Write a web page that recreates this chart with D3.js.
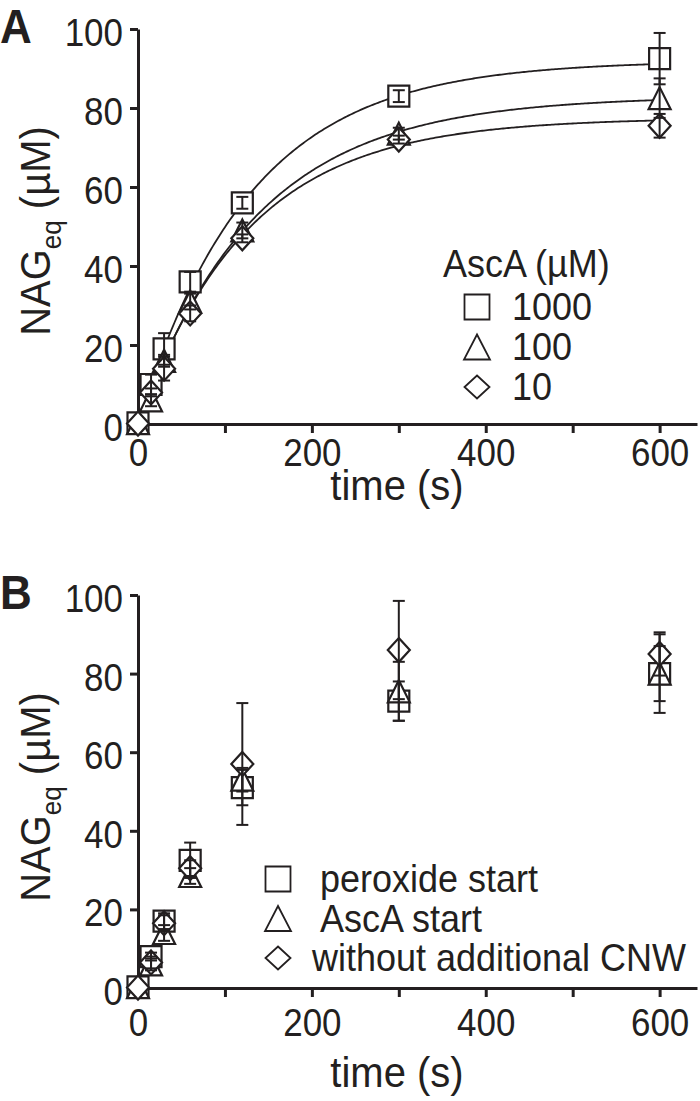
<!DOCTYPE html>
<html><head><meta charset="utf-8">
<script src="https://cdn.jsdelivr.net/npm/d3@7"></script>
<style>
body{margin:0;background:#fff}
text{font-family:"Liberation Sans",Arial,Helvetica,sans-serif;fill:#231f20}
</style>
</head><body>
<svg id="chart" width="700" height="1101"></svg>
<script>
// ---------- data ----------
const times = [0, 15, 30, 60, 120, 300, 600];
const xTicks = [0, 100, 200, 300, 400, 500, 600];
const xTickLabels = ["0", "", "200", "", "400", "", "600"];
const yTicks = [0, 20, 40, 60, 80, 100];
const yTickLabels = ["0", "20", "40", "60", "80", "100"];

// Panel A: AscA concentration series
const seriesA = ["1000", "100", "10"];
const a1000 = [0.3, 10, 19, 36, 56, 83, 92.5];
const a1000Err = [0.5, 2.5, 4, 2.5, 1.5, 1.5, 6.5];
const a100 = [0.2, 6, 16, 31, 49, 73.5, 82.5];
const a100Err = [0.5, 1.5, 1.5, 2, 2, 1.5, 5];
const a10 = [0.1, 8, 14, 28, 47, 72, 75.5];
const a10Err = [0.5, 1, 3, 2, 1, 1, 3];
// exponential fit parameters (plateau, rate) for the fitted curves
const fitPlateauA = [92, 83, 77.5];
const fitRateA = [0.0078, 0.0074, 0.0080];
const legendTitleA = "AscA (\u00b5M)";

// Panel B: start-condition series
const seriesB = ["peroxide start", "AscA start", "without additional CNW"];
const bPeroxide = [0.3, 8, 17, 32.5, 51, 73, 80];
const bPeroxideErr = [0.5, 1, 2, 4.5, 4.5, 5, 10];
const bAscA = [0.2, 6, 14, 28.5, 53, 75.5, 80];
const bAscAErr = [0.5, 1.5, 2, 2, 3, 7.5, 7];
const bNoCNW = [0.1, 6.5, 16.5, 30.5, 57, 86, 85];
const bNoCNWErr = [0.5, 1.5, 2, 2, 15.5, 12.5, 5.5];

const shapes = ["square", "triangle", "diamond"];
const ink = "#231f20";

// ---------- helpers ----------
function symbolPath(shape, w, h) {
  const p = d3.path();
  if (shape === "square") { p.rect(-w/2, -h/2, w, h); }
  else if (shape === "triangle") { p.moveTo(0, -h/2); p.lineTo(w/2, h/2); p.lineTo(-w/2, h/2); p.closePath(); }
  else { p.moveTo(0, -h/2); p.lineTo(w/2, 0); p.lineTo(0, h/2); p.lineTo(-w/2, 0); p.closePath(); }
  return p.toString();
}
// vertically stretch text glyphs (reference type is taller than Arial)
function stretch(sel, k) {
  sel.each(function () {
    const t = d3.select(this);
    const x = +t.attr("x") || 0, y = +t.attr("y") || 0;
    const prev = t.attr("transform") || "";
    t.attr("x", null).attr("y", null)
      .attr("transform", `${prev} translate(${x},${y}) scale(1,${k})`);
  });
}
const markSize = {square:[21,21], triangle:[22,22], diamond:[22,24]};
const legSize = {square:[25,25], triangle:[26,25], diamond:[25,23]};

const svg = d3.select("#chart");

function panel(cfg) {
  const g = svg.append("g");
  const x = d3.scaleLinear().domain([0, 643]).range([138, 697]);
  const y = d3.scaleLinear().domain([0, 100]).range([cfg.y0, cfg.y100]);

  // axes
  const xAxis = d3.axisBottom(x).tickValues(xTicks).tickSize(9).tickSizeOuter(0)
    .tickFormat((d, i) => xTickLabels[i]);
  const gx = g.append("g").attr("transform", `translate(0,${cfg.y0})`).call(xAxis);
  const yAxis = d3.axisLeft(y).tickValues(yTicks).tickSize(8).tickSizeOuter(0)
    .tickFormat((d, i) => yTickLabels[i]).tickPadding(7);
  const gy = g.append("g").attr("transform", `translate(${x(0)},0)`).call(yAxis);
  [gx, gy].forEach(a => {
    a.select(".domain").attr("stroke", ink).attr("stroke-width", 3);
    a.selectAll(".tick line").attr("stroke", ink).attr("stroke-width", 3);
    a.selectAll(".tick text").attr("font-size", 35).attr("fill", ink)
      .attr("font-family", '"Liberation Sans",Arial,sans-serif');
  });
  gy.selectAll(".tick text").attr("dy", "0.42em");
  gx.selectAll(".tick text").attr("dy", null).attr("y", cfg.xLabOff / 1.12);
  stretch(gy.selectAll(".tick text"), 1.12);
  gx.selectAll(".tick text").attr("transform", "scale(1,1.12)");

  // fitted curves
  if (cfg.fits) {
    const line = d3.line().x(d => x(d[0])).y(d => y(d[1]));
    cfg.fits.forEach(f => {
      const pts = d3.range(0, 601, 2).map(t => [t, f.A * (1 - Math.exp(-f.k * t))]);
      g.append("path").attr("d", line(pts)).attr("fill", "none")
        .attr("stroke", ink).attr("stroke-width", 1.8);
    });
  }

  // markers
  cfg.series.forEach((s, si) => {
    const [w, h] = markSize[shapes[si]];
    g.append("g").selectAll("path").data(s.vals).join("path")
      .attr("transform", (d, i) => `translate(${x(times[i])},${y(d)})`)
      .attr("d", symbolPath(shapes[si], w, h))
      .attr("fill", "#fff").attr("stroke", ink).attr("stroke-width", 2.2);
  });
  // error bars
  cfg.series.forEach((s) => {
    const eb = g.append("g").attr("stroke", ink).attr("stroke-width", 2);
    s.vals.forEach((v, i) => {
      const cx = x(times[i]), e = s.err[i];
      if (e < 0.8) return;
      eb.append("line").attr("x1", cx).attr("x2", cx).attr("y1", y(v - e)).attr("y2", y(v + e));
      [v - e, v + e].forEach(c => eb.append("line").attr("x1", cx - 6).attr("x2", cx + 6)
        .attr("y1", y(c)).attr("y2", y(c)));
    });
  });

  // axis titles
  const xt = g.append("text").attr("x", 397).attr("y", cfg.xTitleY).attr("text-anchor", "middle")
    .attr("font-size", 40).text("time (s)");
  stretch(xt, 1.06);
  const yt = g.append("text").attr("transform", `translate(50,${cfg.yTitleC}) rotate(-90)`)
    .attr("text-anchor", "middle").attr("font-size", 40);
  yt.append("tspan").text("NAG");
  yt.append("tspan").attr("font-size", 26).attr("dy", 10).text("eq");
  yt.append("tspan").attr("dy", -10).text(" (\u00b5M)");
  stretch(yt, 1.08);

  // panel letter
  const pl = g.append("text").attr("x", 0).attr("y", cfg.letterY).attr("font-size", 44)
    .attr("font-weight", "bold").text(cfg.letter);
  stretch(pl, 1.08);

  // legend
  const lg = g.append("g");
  if (cfg.legendTitle) {
    const lt = lg.append("text").attr("x", cfg.legX - 34).attr("y", cfg.legTitleY)
      .attr("font-size", 36).text(cfg.legendTitle);
    stretch(lt, 1.06);
  }
  cfg.legendLabels.forEach((lab, i) => {
    const cy = cfg.legY0 + i * cfg.legDy;
    const [w, h] = legSize[shapes[i]];
    lg.append("path").attr("transform", `translate(${cfg.legX},${cy})`)
      .attr("d", symbolPath(shapes[i], w, h)).attr("fill", "none")
      .attr("stroke", ink).attr("stroke-width", 1.8);
    const tx = lg.append("text").attr("x", cfg.legTextX[i]).attr("y", cy + 13)
      .attr("font-size", 36).text(lab);
    stretch(tx, 1.06);
  });
}

panel({
  letter: "A", letterY: 43, y0: 424, y100: 29, xLabOff: 42, xTitleY: 500, yTitleC: 231,
  series: [{vals: a1000, err: a1000Err}, {vals: a100, err: a100Err}, {vals: a10, err: a10Err}],
  fits: fitPlateauA.map((A, i) => ({A, k: fitRateA[i]})),
  legendTitle: legendTitleA, legTitleY: 277, legendLabels: seriesA,
  legX: 477, legY0: 307, legDy: 40, legTextX: [512, 512, 512]
});
panel({
  letter: "B", letterY: 609, y0: 988, y100: 595, xLabOff: 48, xTitleY: 1087, yTitleC: 797,
  series: [{vals: bPeroxide, err: bPeroxideErr}, {vals: bAscA, err: bAscAErr}, {vals: bNoCNW, err: bNoCNWErr}],
  fits: null,
  legendTitle: null, legendLabels: seriesB,
  legX: 278, legY0: 879, legDy: 39.5, legTextX: [320, 320, 312]
});
</script>
</body></html>
